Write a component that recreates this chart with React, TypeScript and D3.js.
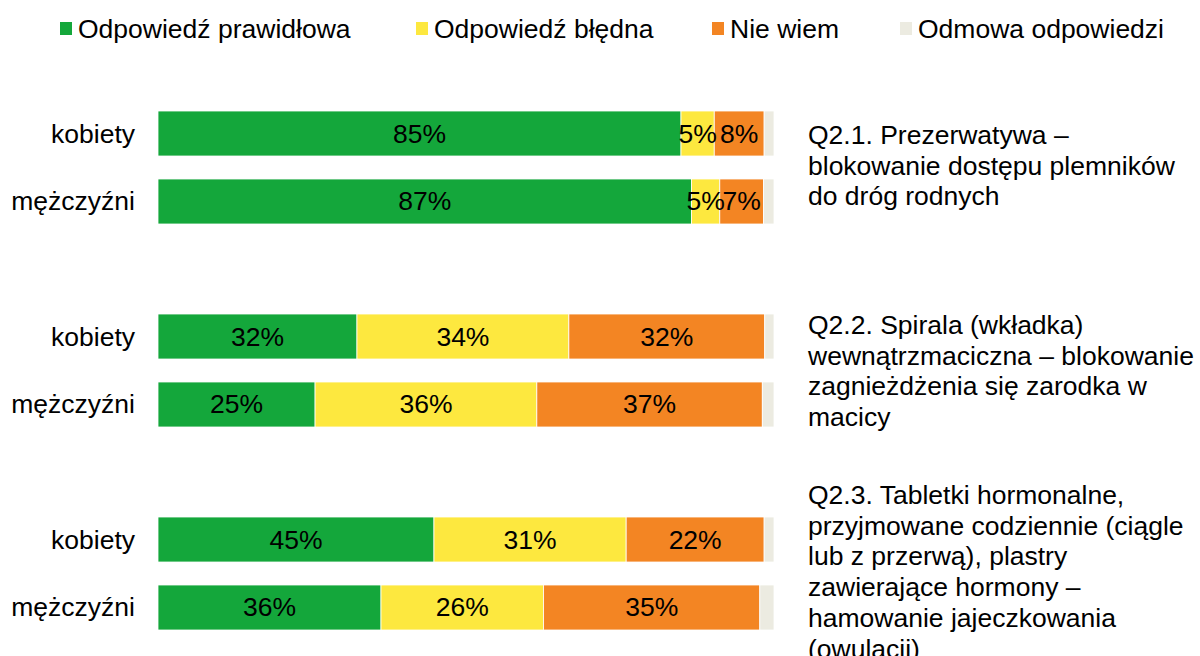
import React from "react";
import * as d3 from "d3";

const width = 1200;
const height = 656;

const seriesNames = ["Odpowiedź prawidłowa", "Odpowiedź błędna", "Nie wiem", "Odmowa odpowiedzi"];
const colors = ["#14a73b", "#fde83f", "#f38523", "#ecebe1"];

const groupLabels = ["kobiety", "mężczyźni"];

// values per group: [kobiety, mężczyźni], each [correct, wrong, dontKnow, refusal]
const q21 = [[84.9, 5.4, 8.1, 1.6], [86.6, 4.6, 7.1, 1.7]];
const q22 = [[32.3, 34.4, 31.8, 1.5], [25.5, 36.0, 36.6, 1.9]];
const q23 = [[44.8, 31.2, 22.4, 1.6], [36.2, 26.4, 35.1, 2.3]];

const labels21 = [["85%", "5%", "8%", ""], ["87%", "5%", "7%", ""]];
const labels22 = [["32%", "34%", "32%", ""], ["25%", "36%", "37%", ""]];
const labels23 = [["45%", "31%", "22%", ""], ["36%", "26%", "35%", ""]];

const questions = [
  ["Q2.1. Prezerwatywa –", "blokowanie dostępu plemników", "do dróg rodnych"],
  ["Q2.2. Spirala (wkładka)", "wewnątrzmaciczna – blokowanie", "zagnieżdżenia się zarodka w", "macicy"],
  ["Q2.3. Tabletki hormonalne,", "przyjmowane codziennie (ciągle", "lub z przerwą), plastry", "zawierające hormony –", "hamowanie jajeczkowania", "(owulacji)"],
];

const groupValues = [q21, q22, q23];
const groupBarLabels = [labels21, labels22, labels23];
const groupTop = [111, 314, 517];
const questionTop = [135, 325, 495];

const font = "'Liberation Sans', Arial, sans-serif";
const fs = 26.5;

const x = d3.scaleLinear().domain([0, 100]).range([158, 774]);
const y = d3.scaleBand().domain(groupLabels).range([0, 113]).paddingInner(0.338);

const legendX = [60, 416, 712, 900];

export default function App() {
  return (
    <svg width={width} height={height} style={{ position: "absolute", left: 0, top: 0, fontFamily: font }}>
      <rect width={width} height={height} fill="#fff" />
      {seriesNames.map((name, i) => (
        <g key={name} transform={`translate(${legendX[i]},0)`}>
          <rect x={0} y={22} width={12} height={13} fill={colors[i]} />
          <text x={18} y={28.5} fontSize={fs} fill="#000" dominantBaseline="central">{name}</text>
        </g>
      ))}
      {groupValues.map((grp, gi) => (
        <g key={gi} transform={`translate(0,${groupTop[gi]})`}>
          {grp.map((vals, ri) => {
            const stack = d3.cumsum(vals);
            const yy = y(groupLabels[ri])!;
            return (
              <g key={ri}>
                <text x={135} y={yy + y.bandwidth() / 2} fontSize={fs} textAnchor="end" dominantBaseline="central">
                  {groupLabels[ri]}
                </text>
                {vals.map((v, si) => {
                  const x0 = x(stack[si] - v);
                  const x1 = x(stack[si]);
                  return (
                    <rect key={si} x={x0} y={yy} width={x1 - x0} height={y.bandwidth()} fill={colors[si]} stroke="#fff" strokeWidth={0.8} />
                  );
                })}
                {vals.map((v, si) => {
                  const lbl = groupBarLabels[gi][ri][si];
                  if (!lbl) return null;
                  const cx = x(stack[si] - v / 2);
                  return (
                    <text key={"l" + si} x={cx} y={yy + y.bandwidth() / 2} fontSize={fs} textAnchor="middle" dominantBaseline="central">
                      {lbl}
                    </text>
                  );
                })}
              </g>
            );
          })}
        </g>
      ))}
      {questions.map((lines, qi) => (
        <text key={qi} x={808} y={questionTop[qi]} fontSize={fs} dominantBaseline="central">
          {lines.map((l, li) => (
            <tspan key={li} x={808} dy={li === 0 ? 0 : 30.7}>{l}</tspan>
          ))}
        </text>
      ))}
    </svg>
  );
}
